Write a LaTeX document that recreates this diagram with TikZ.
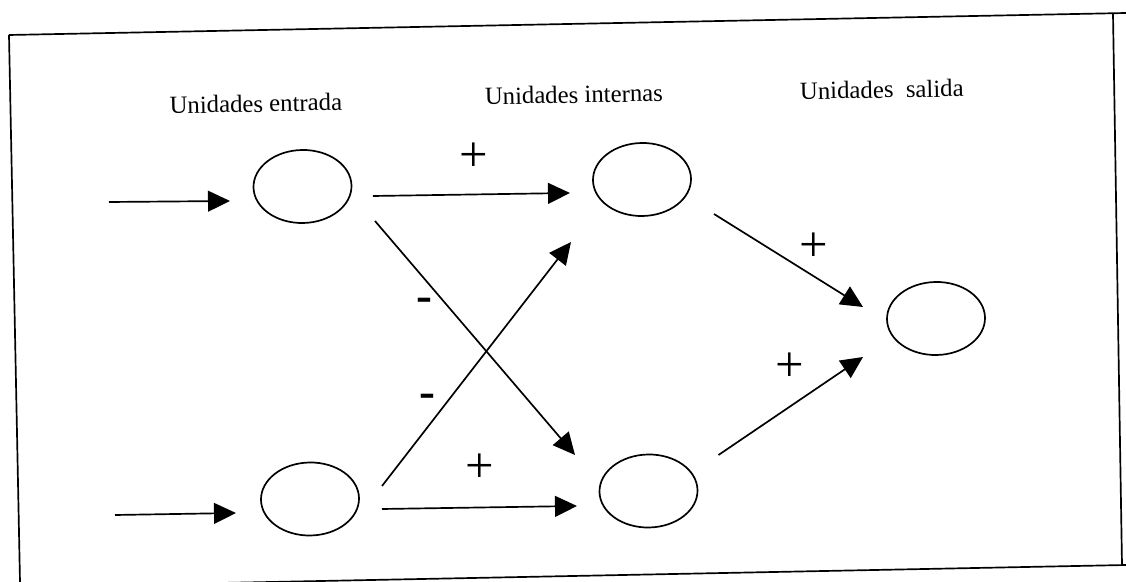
\documentclass[tikz,border=0pt]{standalone}
\usepackage{fontspec}
\setmainfont{Liberation Serif}
\usetikzlibrary{arrows.meta,shapes.geometric}
\begin{document}
\begin{tikzpicture}[x=0.025cm,y=-0.025cm,
  unit/.style={draw,ellipse,line width=1.2pt,minimum width=2.45cm,
    minimum height=1.825cm,inner sep=0pt,rotate=1.1},
  link/.style={line width=1.2pt,-{Triangle[length=5.5mm,width=5.2mm]}},
  head/.style={anchor=base,inner sep=0pt,rotate=1.1,
    font=\fontsize{17.6}{20}\selectfont},
  sign/.style={inner sep=0pt,font=\fontsize{36}{40}\selectfont},
  neg/.style={inner sep=0pt,font=\bfseries\fontsize{34}{38}\selectfont},
  frame/.style={line width=1.2pt}]
% page area
\fill[white] (0,0) rectangle (1126,582);
\useasboundingbox (0,0) rectangle (1126,582);

% surrounding box
\draw[frame] (9,35) -- (1126,13);
\draw[frame] (9,35) -- (20,582);
\draw[frame] (1113,14) -- (1122,565);
\draw[frame] (170,584) -- (1126,565);

% column headings
\node[head] (hin)  at (256,112) {Unidades entrada};
\node[head] (hhid) at (574,103) {Unidades internas};
\node[head] (hout) at (882,98)  {Unidades\ \ salida};

% units
\node[unit] (in1) at (302.5,186.5) {};
\node[unit] (in2) at (310,499) {};
\node[unit] (h1)  at (642,179.5) {};
\node[unit] (h2)  at (648.5,491) {};
\node[unit] (out) at (936,318.5) {};

% external inputs
\coordinate (src1) at (109,202);
\coordinate (src2) at (115,515);
\draw[link] (src1) -- ([shift={(-72.5,14.5)}]in1.center);
\draw[link] (src2) -- ([shift={(-74,14)}]in2.center);

% input -> hidden
\draw[link] ([shift={(70.5,9.5)}]in1.center) -- ([shift={(-72,13.5)}]h1.center);
\draw[link] ([shift={(72.5,34.5)}]in1.center) -- ([shift={(-73.5,-36)}]h2.center);
\draw[link] ([shift={(72,-13)}]in2.center) -- ([shift={(-71,62.5)}]h1.center);
\draw[link] ([shift={(72,10)}]in2.center) -- ([shift={(-71.5,15)}]h2.center);

% hidden -> output
\draw[link] ([shift={(72,34.5)}]h1.center) -- ([shift={(-73,-11.5)}]out.center);
\draw[link] ([shift={(70,-36)}]h2.center) -- ([shift={(-73,38.5)}]out.center);

% weight signs
\node[sign] (w11) at (474,157) {+};
\node[neg]  (w12) at (424,305) {-};
\node[neg]  (w21) at (427,401) {-};
\node[sign] (w22) at (480,468) {+};
\node[sign] (v1)  at (814,247) {+};
\node[sign] (v2)  at (790,367) {+};
\end{tikzpicture}
\end{document}
